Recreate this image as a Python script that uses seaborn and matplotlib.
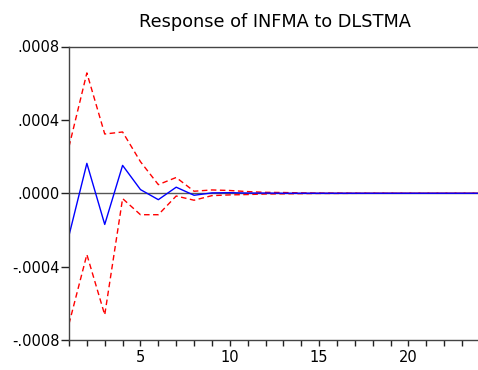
import matplotlib
matplotlib.use("Agg")
import matplotlib.pyplot as plt
import seaborn as sns
import pandas as pd
import numpy as np

periods = list(range(1, 25))
response = [-0.000230, 0.000163, -0.000170, 0.000152, 0.000020, -0.000035, 0.000033, -0.000011,
            0.000002, 0.000003, 0.000001, 0.000001, 0.0, 0.0, 0.0, 0.0,
            0.0, 0.0, 0.0, 0.0, 0.0, 0.0, 0.0, 0.0]
upper = [0.000254, 0.000656, 0.000323, 0.000334, 0.000172, 0.000047, 0.000086, 0.000011,
         0.000018, 0.000015, 0.000009, 0.000005, 0.000004, 0.000002, 0.000001, 0.000001,
         0.0000005, 0.0000003, 0.0000002, 0.0000001, 0.0, 0.0, 0.0, 0.0]
lower = [-0.000712, -0.000334, -0.000663, -0.000029, -0.000117, -0.000117, -0.000015, -0.000038,
         -0.000013, -0.000009, -0.000007, -0.000004, -0.000003, -0.000002, -0.000001, -0.000001,
         -0.0000005, -0.0000003, -0.0000002, -0.0000001, 0.0, 0.0, 0.0, 0.0]
yticks = [-0.0008, -0.0004, 0.0, 0.0004, 0.0008]
ytick_labels = ["-.0008", "-.0004", ".0000", ".0004", ".0008"]
xticks = [5, 10, 15, 20]

sns.set_style("white", {"xtick.bottom": True, "ytick.left": True})
plt.rcParams['font.family'] = ['DejaVu Sans']
plt.rcParams['xtick.major.size'] = 4
plt.rcParams['xtick.minor.size'] = 4
plt.rcParams['ytick.major.size'] = 6

df = pd.DataFrame({"period": periods, "response": response, "upper": upper, "lower": lower})

fig = plt.figure(figsize=(4.78, 3.70), dpi=100)
ax = fig.add_axes([69/478, 1-340/370, 1-69/478 + 0.004, (340-46.5)/370])

ax.axhline(0, color="#555555", lw=1.0, zorder=1)
sns.lineplot(data=df, x="period", y="upper", ax=ax, color="red", lw=1.0, linestyle=(0, (4, 2.5)))
sns.lineplot(data=df, x="period", y="lower", ax=ax, color="red", lw=1.0, linestyle=(0, (4, 2.5)))
sns.lineplot(data=df, x="period", y="response", ax=ax, color="blue", lw=1.0)

ax.set_xlim(1, 24)
ax.set_ylim(-0.0008, 0.0008)
ax.set_yticks(yticks)
ax.set_yticklabels(ytick_labels)
ax.set_xticks(xticks)
ax.set_xticks(periods, minor=True)
ax.set_xlabel("")
ax.set_ylabel("")
ax.set_title("Response of INFMA to DLSTMA", fontsize=12.8, pad=14, color="black")

for s in ["left", "top", "bottom", "right"]:
    ax.spines[s].set_color("#444444")
    ax.spines[s].set_linewidth(1.0)
ax.tick_params(axis="both", which="both", direction="out", color="#222222", labelcolor="black", width=1.0)
ax.tick_params(axis="y", which="major", left=True, length=6, labelsize=10.5, pad=1)
ax.tick_params(axis="x", which="major", bottom=True, length=4, labelsize=10.5, pad=3)
ax.tick_params(axis="x", which="minor", bottom=True, length=4)

fig.savefig("out.png", dpi=100)
